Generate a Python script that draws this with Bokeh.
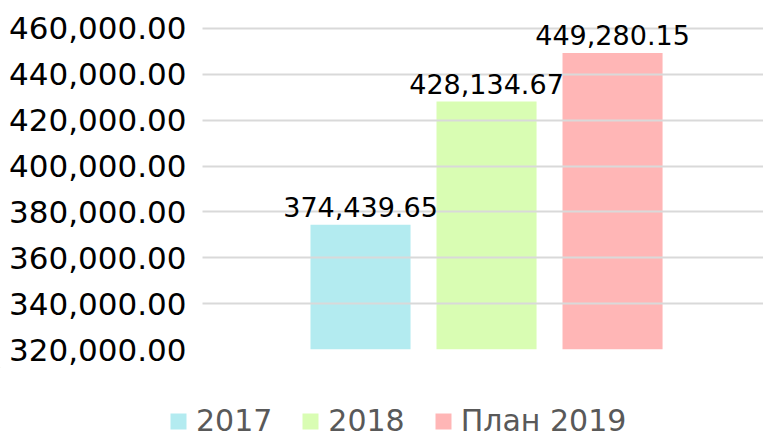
from bokeh.plotting import figure
from bokeh.layouts import column
from bokeh.models import ColumnDataSource, NumeralTickFormatter, SingleIntervalTicker, LabelSet, Range1d
from bokeh.core.properties import value
from bokeh.embed import file_html
from bokeh.resources import INLINE

labels = ["2017", "2018", "План 2019"]
values = [374439.65, 428134.67, 449280.15]
colors = ["#b3ebf0", "#d9fdb3", "#ffb6b6"]
y_min = 320000
y_max = 460000
tick_step = 20000

xs = list(range(len(labels)))
value_text = [f"{v:,.2f}" for v in values]
source = ColumnDataSource(dict(x=xs, value=values, label=labels, color=colors, text=value_text,
                               bottom=[y_min] * len(values)))

# extra headroom above the top tick so the top value label is not clipped
headroom = 7850
p = figure(frame_width=561, frame_height=339, output_backend="svg", toolbar_location=None,
           x_range=Range1d(-1.254, 3.198), y_range=Range1d(y_min, y_max + headroom),
           x_axis_location=None,
           min_border_left=202, min_border_right=0, min_border_top=10, min_border_bottom=18)
p.frame_align = False
p.outline_line_color = None
p.background_fill_color = "white"

p.vbar(x="x", top="value", bottom="bottom", width=0.794, color="color", line_color=None,
       source=source)

ls = LabelSet(x="x", y="value", text="text", source=source, text_align="center", text_baseline="bottom",
              y_offset=8, text_font=value("DejaVu Sans"), text_font_size=value("27px"), text_color="#000000")
p.add_layout(ls)

p.xgrid.visible = False
p.ygrid.grid_line_color = "#d9d9d9"
p.ygrid.grid_line_width = 2
p.ygrid.level = "guide"
p.yaxis.ticker = SingleIntervalTicker(interval=tick_step)
p.yaxis.formatter = NumeralTickFormatter(format="0,0.00")
p.yaxis.axis_line_color = None
p.yaxis.major_tick_line_color = None
p.yaxis.minor_tick_line_color = None
p.yaxis.major_label_standoff = 10
p.yaxis.major_label_text_font = "DejaVu Sans"
p.yaxis.major_label_text_font_size = "31px"
p.yaxis.major_label_text_color = "#000000"

# legend strip below the chart (same data; its bars fall outside this strip's ranges)
lg = figure(width=763, height=71, output_backend="svg", toolbar_location=None,
            x_range=Range1d(100, 101), y_range=Range1d(0, 1),
            x_axis_location=None, y_axis_location=None,
            min_border_left=0, min_border_right=0, min_border_top=0, min_border_bottom=0)
lg.frame_align = False
lg.outline_line_color = None
lg.xgrid.visible = False
lg.ygrid.visible = False
lg.vbar(x="x", top="value", bottom="bottom", width=0.794, color="color", line_color=None,
        source=source, legend_field="label")

legend = lg.legend[0]
legend.orientation = "horizontal"
legend.location = (168, 0)
legend.glyph_width = 20
legend.glyph_height = 20
legend.label_text_font = "DejaVu Sans"
legend.label_text_font_size = "30px"
legend.label_text_color = "#595959"
legend.label_standoff = 8
legend.spacing = 28
legend.padding = 0
legend.margin = 0
legend.border_line_color = None
legend.background_fill_alpha = 0

layout = column(p, lg, spacing=0)
open("out.html", "w").write(file_html(layout, INLINE))
